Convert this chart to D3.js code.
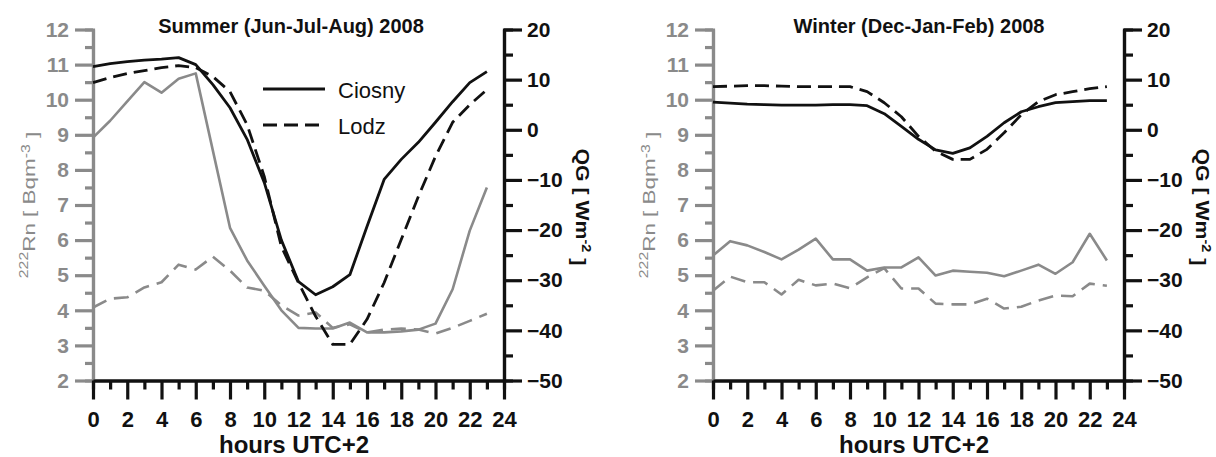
<!DOCTYPE html>
<html>
<head>
<meta charset="utf-8">
<script src="https://cdn.jsdelivr.net/npm/d3@7"></script>
<style>
  body { margin: 0; background: #fff; }
  svg { display: block; font-family: "Liberation Sans", Arial, sans-serif; }
</style>
</head>
<body>
<div id="chart"></div>
<script>
// hours of the day (UTC+2)
const hours = [0, 1, 2, 3, 4, 5, 6, 7, 8, 9, 10, 11, 12, 13, 14, 15, 16, 17, 18, 19, 20, 21, 22, 23];

// Summer: QG [W m-2] (right axis)
const summerCiosnyQG = [12.6, 13.2, 13.6, 13.9, 14.1, 14.4, 13.0, 9.0, 4.4, -1.9, -10.5, -22.0, -30.3, -32.9, -31.3, -28.9, -19.3, -9.9, -5.9, -2.5, 1.5, 5.6, 9.4, 11.6];
const summerLodzQG = [9.4, 10.4, 11.2, 11.8, 12.4, 12.8, 12.4, 10.6, 7.6, 1.0, -9.3, -23.3, -30.5, -37.2, -42.8, -42.8, -37.8, -30.5, -21.9, -13.3, -5.3, 1.5, 5.0, 8.0];
// Summer: 222Rn [Bq m-3] (left axis)
const summerCiosnyRn = [8.92, 9.4, 9.95, 10.5, 10.2, 10.6, 10.75, 8.55, 6.35, 5.42, 4.7, 4.0, 3.5, 3.48, 3.48, 3.65, 3.37, 3.37, 3.4, 3.45, 3.62, 4.6, 6.27, 7.5];
const summerLodzRn = [4.08, 4.33, 4.37, 4.65, 4.8, 5.3, 5.16, 5.53, 5.13, 4.65, 4.56, 4.14, 3.85, 3.94, 3.5, 3.6, 3.37, 3.45, 3.48, 3.45, 3.34, 3.5, 3.7, 3.9];

// Winter: QG
const winterCiosnyQG = [5.5, 5.3, 5.1, 5.0, 4.9, 4.9, 4.9, 5.0, 5.0, 4.8, 3.2, 0.7, -1.9, -4.0, -4.7, -3.6, -1.3, 1.4, 3.6, 4.6, 5.4, 5.6, 5.8, 5.8];
const winterLodzQG = [8.6, 8.7, 8.8, 8.8, 8.7, 8.6, 8.6, 8.6, 8.6, 7.6, 5.4, 2.6, -1.3, -4.3, -5.9, -5.9, -3.9, -0.6, 3.0, 5.6, 7.0, 7.6, 8.2, 8.6];
// Winter: 222Rn
const winterCiosnyRn = [5.56, 5.97, 5.85, 5.66, 5.45, 5.73, 6.04, 5.45, 5.45, 5.13, 5.22, 5.22, 5.51, 4.99, 5.13, 5.1, 5.07, 4.97, 5.13, 5.3, 5.04, 5.37, 6.18, 5.42];
const winterLodzRn = [4.56, 4.96, 4.8, 4.8, 4.45, 4.87, 4.71, 4.76, 4.63, 4.94, 5.2, 4.62, 4.62, 4.19, 4.17, 4.17, 4.33, 4.05, 4.1, 4.28, 4.42, 4.4, 4.76, 4.7];

// tick values
const xTicks = [0, 2, 4, 6, 8, 10, 12, 14, 16, 18, 20, 22, 24];
const rnTicks = [2, 3, 4, 5, 6, 7, 8, 9, 10, 11, 12];
const qgTicks = [-50, -40, -30, -20, -10, 0, 10, 20];
const stations = ["Ciosny", "Lodz"];

const panels = [
    { title: "Summer (Jun-Jul-Aug) 2008", x0: 93, titleX: 291, qg: [summerCiosnyQG, summerLodzQG], rn: [summerCiosnyRn, summerLodzRn], legend: true },
    { title: "Winter (Dec-Jan-Feb) 2008", x0: 713, titleX: 919, qg: [winterCiosnyQG, winterLodzQG], rn: [winterCiosnyRn, winterLodzRn], legend: false }
];

const width = 1216, height = 457;
const plotW = 411, plotTop = 29.5, plotBottom = 380.5;
const gray = "#8a8a8a", black = "#111";
const dashBlack = "14,7", dashGray = "15,8";

const svg = d3.select("#chart").append("svg").attr("width", width).attr("height", height);

panels.forEach(p => drawPanel(p));

function drawPanel(p) {
    const g = svg.append("g");
    const x = d3.scaleLinear().domain([0, 24]).range([p.x0, p.x0 + plotW]);
    const yRn = d3.scaleLinear().domain([2, 12]).range([plotBottom, plotTop]);
    const yQG = d3.scaleLinear().domain([-50, 20]).range([plotBottom, plotTop]);

    // minor ticks
    g.append("g").attr("transform", `translate(0,${plotBottom})`)
        .call(d3.axisBottom(x).tickValues(d3.range(1, 24, 2)).tickSize(9).tickFormat(""))
        .call(a => styleAxis(a, black));
    g.append("g").attr("transform", `translate(${p.x0},0)`)
        .call(d3.axisLeft(yRn).tickValues(d3.range(2.5, 12, 1)).tickSize(8).tickFormat(""))
        .call(a => styleAxis(a, gray));
    g.append("g").attr("transform", `translate(${p.x0 + plotW},0)`)
        .call(d3.axisRight(yQG).tickValues(d3.range(-45, 20, 10)).tickSize(9).tickFormat(""))
        .call(a => styleAxis(a, black));

    // major ticks + labels
    g.append("g").attr("transform", `translate(${p.x0},0)`)
        .call(d3.axisLeft(yRn).tickValues(rnTicks).tickSize(18).tickPadding(6).tickSizeOuter(0))
        .call(a => styleAxis(a, gray, 21));
    g.append("g").attr("transform", `translate(${p.x0 + plotW},0)`)
        .call(d3.axisRight(yQG).tickValues(qgTicks).tickSize(18).tickPadding(5).tickSizeOuter(0))
        .call(a => styleAxis(a, black, 21));
    g.append("g").attr("transform", `translate(0,${plotBottom})`)
        .call(d3.axisBottom(x).tickValues(xTicks).tickSize(19).tickPadding(12).tickSizeOuter(0))
        .call(a => styleAxis(a, black, 22));

    // Rn lines (gray)
    const lineRn = d3.line().x((d, i) => x(hours[i])).y(d => yRn(d));
    p.rn.forEach((s, i) => {
        g.append("path").datum(s)
            .attr("fill", "none").attr("stroke", gray).attr("stroke-width", 2.6)
            .attr("stroke-linejoin", "round")
            .attr("stroke-dasharray", i === 1 ? dashGray : null)
            .attr("d", lineRn);
    });

    // QG lines (black)
    const lineQG = d3.line().x((d, i) => x(hours[i])).y(d => yQG(d));
    p.qg.forEach((s, i) => {
        g.append("path").datum(s)
            .attr("fill", "none").attr("stroke", black).attr("stroke-width", 2.8)
            .attr("stroke-linejoin", "round")
            .attr("stroke-dasharray", i === 1 ? dashBlack : null)
            .attr("d", lineQG);
    });

    // title
    g.append("text").attr("x", p.titleX).attr("y", 33).attr("text-anchor", "middle")
        .style("font-size", "20px").style("font-weight", "bold").attr("fill", black)
        .text(p.title);

    // x axis label
    g.append("text").attr("x", p.x0 + 201).attr("y", 453).attr("text-anchor", "middle")
        .style("font-size", "24px").style("font-weight", "bold").attr("fill", black)
        .text("hours UTC+2");

    // left label: 222Rn [ Bqm-3 ]
    const rl = g.append("text")
        .attr("transform", `translate(${p.x0 - 60},205) rotate(-90) scale(1.32,1)`)
        .attr("text-anchor", "middle").style("font-size", "17px").attr("fill", gray);
    rl.append("tspan").attr("dy", "-0.45em").style("font-size", "12px").text("222");
    rl.append("tspan").attr("dy", "0.45em").text("Rn [ Bqm");
    rl.append("tspan").attr("dy", "-0.45em").style("font-size", "12px").text("-3");
    rl.append("tspan").attr("dy", "0.45em").text(" ]");

    // right label: QG [ Wm-2 ]
    const ql = g.append("text")
        .attr("transform", `translate(${p.x0 + plotW + 72},207) rotate(90) scale(1.12,1)`)
        .attr("text-anchor", "middle").style("font-size", "19px").style("font-weight", "bold").attr("fill", black);
    ql.append("tspan").text("QG [ Wm");
    ql.append("tspan").attr("dy", "-0.45em").style("font-size", "13px").text("-2");
    ql.append("tspan").attr("dy", "0.45em").text(" ]");

    if (p.legend) {
        const lg = g.append("g");
        stations.forEach((name, i) => {
            const ly = 89 + i * 36;
            lg.append("line").attr("x1", 263).attr("x2", i === 0 ? 325 : 320)
                .attr("y1", ly).attr("y2", ly)
                .attr("stroke", black).attr("stroke-width", 3)
                .attr("stroke-dasharray", i === 1 ? dashBlack : null);
            lg.append("text").attr("x", 338).attr("y", ly + 9)
                .style("font-size", "22px").attr("fill", black).text(name);
        });
    }
}

function styleAxis(a, color, fontSize) {
    a.select(".domain").attr("stroke", color).attr("stroke-width", 3.2);
    a.selectAll(".tick line").attr("stroke", color).attr("stroke-width", 3.2);
    a.selectAll(".tick text").attr("fill", color)
        .style("font-size", (fontSize || 12) + "px").style("font-weight", "bold")
        .style("font-family", "'Liberation Sans', Arial, sans-serif");
}
</script>
</body>
</html>
